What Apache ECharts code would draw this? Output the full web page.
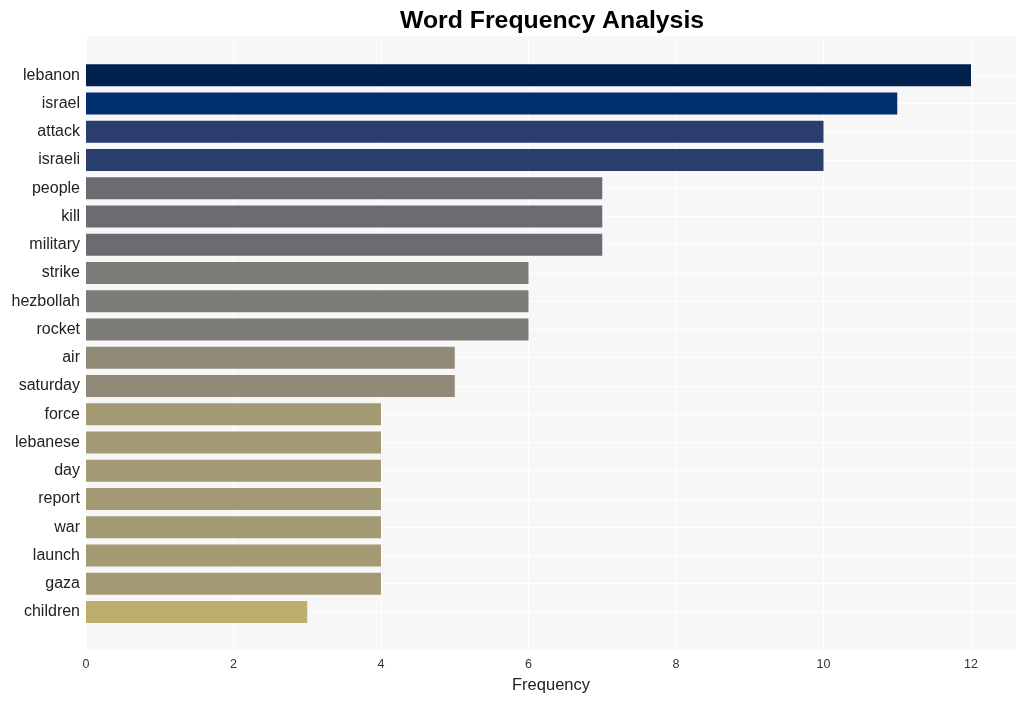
<!DOCTYPE html>
<html><head><meta charset="utf-8">
<script src="https://cdn.jsdelivr.net/npm/echarts@6/dist/echarts.min.js"></script>
<style>html,body{margin:0;padding:0;background:#fff}#c{width:1025px;height:701px}</style>
</head><body><div id="c"></div>
<script>
const categories = ["lebanon","israel","attack","israeli","people","kill","military","strike","hezbollah","rocket","air","saturday","force","lebanese","day","report","war","launch","gaza","children"];
const values = [12,11,10,10,7,7,7,6,6,6,5,5,4,4,4,4,4,4,4,3];
const xTicks = [0,2,4,6,8,10,12];
const colorByValue = {12:"#00204e",11:"#00306f",10:"#2a3e6e",7:"#6b6b72",6:"#7c7b78",5:"#928a78",4:"#a39a74",3:"#bcae6e"};

const xMax = 12.61;
const chart = echarts.init(document.getElementById('c'), null, {renderer:'canvas'});
chart.setOption({
  animation:false,
  backgroundColor:'#ffffff',
  textStyle:{fontFamily:'Liberation Sans, Arial, sans-serif'},
  title:{text:'Word Frequency Analysis',left:395,top:4,
    textStyle:{fontSize:24.8,fontWeight:'bold',color:'#000',fontFamily:'Liberation Sans, Arial, sans-serif'}},
  grid:[
    {left:86,right:9,top:61,bottom:75,show:false,containLabel:false},
    {left:86,right:9,top:36,bottom:51,show:true,backgroundColor:'#f7f7f7',borderWidth:0,containLabel:false}
  ],
  xAxis:[
    {gridIndex:0,type:'value',min:0,max:xMax,show:false},
    {gridIndex:1,type:'value',min:0,max:xMax,interval:2,
      name:'Frequency',nameLocation:'middle',nameGap:27,
      nameTextStyle:{fontSize:16.5,color:'#222'},
      axisLine:{show:false},axisTick:{show:false},
      axisLabel:{fontSize:12.5,color:'#333',margin:8,
        formatter:function(v){return xTicks.indexOf(v)>=0?String(v):'';}},
      splitLine:{show:true,lineStyle:{color:'#ffffff',width:1}}}
  ],
  yAxis:[
    {gridIndex:0,type:'category',data:categories,inverse:true,
      axisLine:{show:false},axisTick:{show:false},splitLine:{show:false},
      axisLabel:{fontSize:16,color:'#222',margin:6,padding:[7,0,0,0]}},
    {gridIndex:1,type:'value',show:false,min:0,max:1}
  ],
  series:[{
    type:'bar',xAxisIndex:0,yAxisIndex:0,
    barWidth:22,
    data:values.map(function(v){return {value:v,itemStyle:{color:colorByValue[v]}};}),
    markLine:{silent:true,symbol:['none','none'],label:{show:false},
      lineStyle:{color:'#ffffff',width:1,type:'solid'},
      data:categories.map(function(c){return {yAxis:c};}),z:1},
    z:3
  }]
});
</script></body></html>
